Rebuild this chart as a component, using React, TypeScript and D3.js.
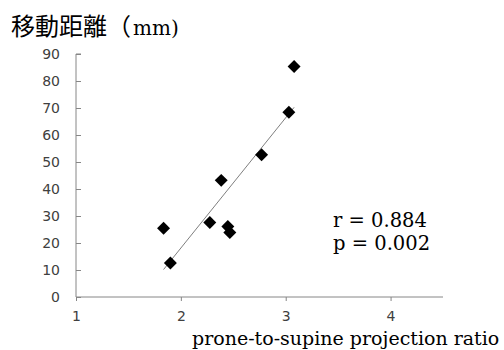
import React, { useRef, useEffect } from "react";
import * as d3 from "d3";

const ratio = [1.835, 1.9, 2.276, 2.385, 2.448, 2.467, 2.77, 3.03, 3.08];
const distance = [25.5, 12.6, 27.6, 43.2, 26.1, 23.9, 52.7, 68.4, 85.4];
const xTicks = [1, 2, 3, 4];
const yTicks = [0, 10, 20, 30, 40, 50, 60, 70, 80, 90];
const statLines = ["r = 0.884", "p = 0.002"];

const App = () => {
  const svgRef = useRef<SVGSVGElement>(null);

  useEffect(() => {
    const svg = d3.select(svgRef.current);
    svg.selectAll("*").remove();

    const width = 504;
    const height = 350;
    const margin = { top: 54, right: 61, bottom: 53, left: 76 };
    const axisColor = "#868686";

    const x = d3
      .scaleLinear()
      .domain([1, 4.5])
      .range([margin.left, width - margin.right]);
    const y = d3
      .scaleLinear()
      .domain([0, 90])
      .range([height - margin.bottom, margin.top]);

    // y axis
    const yAxis = svg
      .append("g")
      .attr("transform", `translate(${margin.left},0)`)
      .call(d3.axisRight(y).tickValues(yTicks).tickSize(5).tickFormat(d3.format("d")));
    yAxis.select(".domain").attr("stroke", axisColor).attr("d", `M5,${y(90)}H0V${y(0)}`);
    yAxis.selectAll(".tick line").attr("stroke", axisColor);
    yAxis
      .selectAll(".tick text")
      .attr("x", -16)
      .attr("text-anchor", "end")
      .attr("fill", "#404040")
      .attr("font-family", "DejaVu Sans")
      .attr("font-size", 14);

    // x axis
    const xAxis = svg
      .append("g")
      .attr("transform", `translate(0,${y(0)})`)
      .call(d3.axisBottom(x).tickValues(xTicks).tickSize(4).tickFormat(d3.format("d")));
    xAxis.select(".domain").attr("stroke", axisColor).attr("d", `M${x(1)},0H${x(4.5)}`);
    xAxis.selectAll(".tick line").attr("stroke", axisColor);
    xAxis
      .selectAll(".tick text")
      .attr("y", 14)
      .attr("fill", "#404040")
      .attr("font-family", "DejaVu Sans")
      .attr("font-size", 14);

    // linear regression trend line over the data range
    const mx = d3.mean(ratio)!;
    const my = d3.mean(distance)!;
    const sxy = d3.sum(ratio, (v, i) => (v - mx) * (distance[i] - my));
    const sxx = d3.sum(ratio, (v) => (v - mx) * (v - mx));
    const slope = sxy / sxx;
    const intercept = my - slope * mx;
    const [x0, x1] = d3.extent(ratio) as [number, number];
    svg
      .append("line")
      .attr("x1", x(x0))
      .attr("y1", y(intercept + slope * x0))
      .attr("x2", x(x1))
      .attr("y2", y(intercept + slope * x1))
      .attr("stroke", "#7f7f7f")
      .attr("stroke-width", 1);

    // points
    const diamond = d3.symbol().type(d3.symbolSquare).size(84);
    svg
      .append("g")
      .selectAll("path")
      .data(ratio)
      .join("path")
      .attr("d", diamond)
      .attr(
        "transform",
        (d, i) => `translate(${x(d)},${y(distance[i])}) rotate(45)`
      )
      .attr("fill", "#000");

    // title
    const title = svg
      .append("text")
      .attr("x", 11)
      .attr("y", 35)
      .attr("fill", "#000");
    title
      .append("tspan")
      .attr("font-family", "Noto Sans CJK JP")
      .attr("font-size", 24)
      .text("移動距離（");
    title
      .append("tspan")
      .attr("font-family", "DejaVu Serif")
      .attr("font-size", 20)
      .attr("dx", 2)
      .text("mm)");

    // stats
    svg
      .append("g")
      .selectAll("text")
      .data(statLines)
      .join("text")
      .attr("x", 333)
      .attr("y", (d, i) => 227 + i * 22.5)
      .attr("font-family", "DejaVu Serif")
      .attr("font-size", 19.5)
      .attr("fill", "#000")
      .text((d) => d);

    // x label
    svg
      .append("text")
      .attr("x", 192)
      .attr("y", 345)
      .attr("font-family", "DejaVu Serif")
      .attr("font-size", 19)
      .attr("fill", "#000")
      .text("prone-to-supine projection ratio");
  }, []);

  return (
    <svg
      ref={svgRef}
      width={504}
      height={350}
      style={{ position: "absolute", left: 0, top: 0, background: "#fff" }}
    />
  );
};

export default App;
